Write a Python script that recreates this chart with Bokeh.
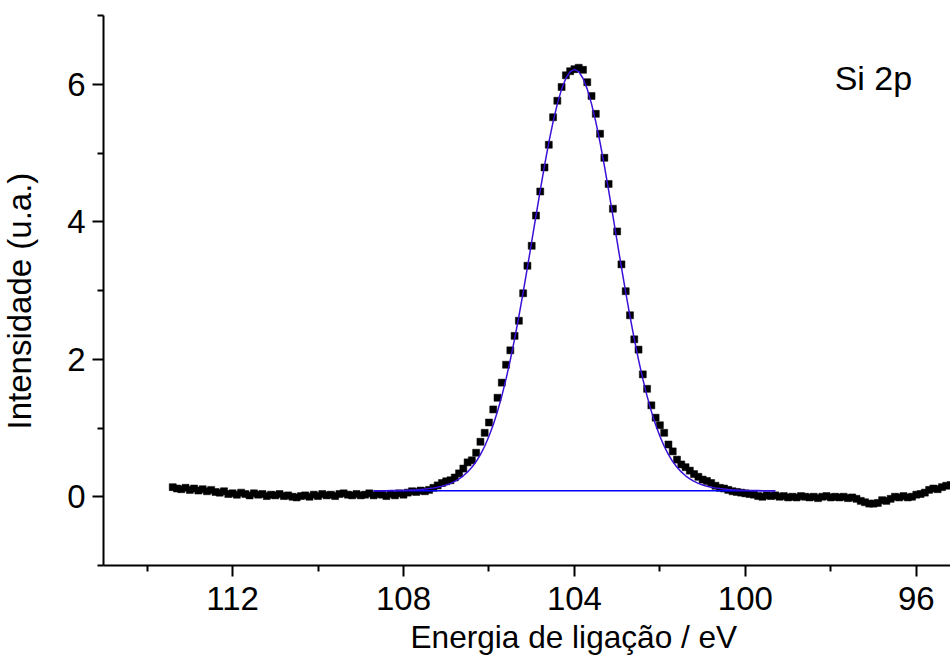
import math
from bokeh.plotting import figure
from bokeh.models import Range1d, FixedTicker, Label, Title
from bokeh.embed import file_html
from bokeh.resources import INLINE

# ---- data (binding energy in eV, intensity in a.u.) ----
energy = [
    113.4, 113.3, 113.2, 113.1, 113.0, 112.9, 112.8, 112.7, 112.6, 112.5,
    112.4, 112.3, 112.2, 112.1, 112.0, 111.9, 111.8, 111.7, 111.6, 111.5,
    111.4, 111.3, 111.2, 111.1, 111.0, 110.9, 110.8, 110.7, 110.6, 110.5,
    110.4, 110.3, 110.2, 110.1, 110.0, 109.9, 109.8, 109.7, 109.6, 109.5,
    109.4, 109.3, 109.2, 109.1, 109.0, 108.9, 108.8, 108.7, 108.6, 108.5,
    108.4, 108.3, 108.2, 108.1, 108.0, 107.9, 107.8, 107.7, 107.6, 107.5,
    107.4, 107.3, 107.2, 107.1, 107.0, 106.9, 106.8, 106.7, 106.6, 106.5,
    106.4, 106.3, 106.2, 106.1, 106.0, 105.9, 105.8, 105.7, 105.6, 105.5,
    105.4, 105.3, 105.2, 105.1, 105.0, 104.9, 104.8, 104.7, 104.6, 104.5,
    104.4, 104.3, 104.2, 104.1, 104.0, 103.9, 103.8, 103.7, 103.6, 103.5,
    103.4, 103.3, 103.2, 103.1, 103.0, 102.9, 102.8, 102.7, 102.6, 102.5,
    102.4, 102.3, 102.2, 102.1, 102.0, 101.9, 101.8, 101.7, 101.6, 101.5,
    101.4, 101.3, 101.2, 101.1, 101.0, 100.9, 100.8, 100.7, 100.6, 100.5,
    100.4, 100.3, 100.2, 100.1, 100.0, 99.9, 99.8, 99.7, 99.6, 99.5,
    99.4, 99.3, 99.2, 99.1, 99.0, 98.9, 98.8, 98.7, 98.6, 98.5,
    98.4, 98.3, 98.2, 98.1, 98.0, 97.9, 97.8, 97.7, 97.6, 97.5,
    97.4, 97.3, 97.2, 97.1, 97.0, 96.9, 96.8, 96.7, 96.6, 96.5,
    96.4, 96.3, 96.2, 96.1, 96.0, 95.9, 95.8, 95.7, 95.6, 95.5,
    95.4, 95.3, 95.2,
]
intensity = [
    0.14, 0.12, 0.11, 0.13, 0.10, 0.12, 0.09, 0.11, 0.08, 0.10,
    0.07, 0.06, 0.08, 0.04, 0.05, 0.03, 0.06, 0.04, 0.02, 0.05,
    0.03, 0.04, 0.01, 0.03, 0.02, 0.04, 0.01, 0.02, 0.00, -0.01,
    0.01, 0.02, 0.00, 0.03, 0.01, 0.04, 0.02, 0.03, 0.01, 0.04,
    0.05, 0.03, 0.02, 0.04, 0.02, 0.03, 0.05, 0.02, 0.04, 0.03,
    0.01, 0.04, 0.02, 0.05, 0.03, 0.06, 0.08, 0.07, 0.09, 0.08,
    0.10, 0.13, 0.165, 0.20, 0.225, 0.24, 0.28, 0.34, 0.41, 0.50,
    0.53, 0.64, 0.80, 0.93, 1.08, 1.27, 1.44, 1.66, 1.92, 2.13,
    2.34, 2.56, 2.96, 3.36, 3.65, 4.09, 4.44, 4.79, 5.12, 5.52,
    5.76, 5.96, 6.13, 6.19, 6.22, 6.24, 6.21, 6.03, 5.83, 5.57,
    5.28, 4.93, 4.55, 4.19, 3.86, 3.38, 2.99, 2.64, 2.29, 2.14,
    1.78, 1.57, 1.33, 1.15, 1.04, 0.93, 0.76, 0.66, 0.54, 0.47,
    0.43, 0.38, 0.33, 0.29, 0.25, 0.23, 0.20, 0.16, 0.13, 0.12,
    0.10, 0.08, 0.07, 0.06, 0.05, 0.04, 0.03, 0.01, 0.00, 0.02,
    0.01, 0.02, 0.00, 0.01, -0.01, 0.00, -0.01, 0.01, 0.00, -0.01,
    0.00, -0.02, 0.00, 0.01, -0.01, 0.00, -0.01, 0.00, -0.02, -0.01,
    -0.03, -0.06, -0.08, -0.10, -0.10, -0.09, -0.05, -0.06, -0.03, 0.00,
    -0.01, 0.01, -0.01, 0.00, 0.03, 0.04, 0.06, 0.10, 0.12, 0.11,
    0.14, 0.16, 0.17,
]

fit_energy = [
    108.7, 108.6, 108.5, 108.4, 108.3, 108.2, 108.1, 108.0, 107.9, 107.8,
    107.7, 107.6, 107.5, 107.4, 107.3, 107.2, 107.1, 107.0, 106.9, 106.8,
    106.7, 106.6, 106.5, 106.4, 106.3, 106.2, 106.1, 106.0, 105.9, 105.8,
    105.7, 105.6, 105.5, 105.4, 105.3, 105.2, 105.1, 105.0, 104.9, 104.8,
    104.7, 104.6, 104.5, 104.4, 104.3, 104.2, 104.1, 104.0, 103.9, 103.8,
    103.7, 103.6, 103.5, 103.4, 103.3, 103.2, 103.1, 103.0, 102.9, 102.8,
    102.7, 102.6, 102.5, 102.4, 102.3, 102.2, 102.1, 102.0, 101.9, 101.8,
    101.7, 101.6, 101.5, 101.4, 101.3, 101.2, 101.1, 101.0, 100.9, 100.8,
    100.7, 100.6, 100.5, 100.4, 100.3, 100.2, 100.1, 100.0, 99.9, 99.8,
    99.7, 99.6, 99.5, 99.4, 99.3,
]
fit_intensity = [
    0.087, 0.088, 0.088, 0.089, 0.090, 0.091, 0.092, 0.093, 0.095, 0.098,
    0.101, 0.106, 0.112, 0.119, 0.128, 0.139, 0.153, 0.170, 0.195, 0.224,
    0.260, 0.305, 0.361, 0.429, 0.512, 0.614, 0.735, 0.879, 1.047, 1.242,
    1.464, 1.714, 1.991, 2.295, 2.623, 2.972, 3.336, 3.710, 4.086, 4.458,
    4.815, 5.150, 5.453, 5.715, 5.929, 6.087, 6.184, 6.217, 6.184, 6.087,
    5.929, 5.715, 5.453, 5.150, 4.815, 4.458, 4.086, 3.710, 3.336, 2.972,
    2.623, 2.295, 1.991, 1.714, 1.464, 1.242, 1.047, 0.879, 0.735, 0.614,
    0.512, 0.429, 0.361, 0.305, 0.260, 0.224, 0.195, 0.170, 0.153, 0.139,
    0.128, 0.119, 0.112, 0.106, 0.101, 0.098, 0.095, 0.093, 0.092, 0.091,
    0.090, 0.089, 0.088, 0.088, 0.087,
]

baseline_energy = [108.7, 99.3]
baseline_intensity = [0.087, 0.087]

x_major_ticks = [112, 108, 104, 100, 96]
x_minor_ticks = [114, 110, 106, 102, 98]
y_major_ticks = [0, 2, 4, 6]
y_minor_ticks = [-1, 1, 3, 5, 7]

x_title = "Energia de ligação / eV"
y_title = "Intensidade (u.a.)"
peak_label = "Si 2p"

FONT = "Liberation Sans"

p = figure(
    width=950, height=655,
    output_backend="svg", toolbar_location=None,
    x_range=Range1d(115.02, 95.20), y_range=Range1d(-1, 7),
    min_border_left=101, min_border_right=0,
    min_border_top=15, min_border_bottom=90,
    background_fill_color="white", border_fill_color="white",
)
p.outline_line_color = None
p.xgrid.visible = False
p.ygrid.visible = False

p.xaxis.ticker = FixedTicker(ticks=x_major_ticks, minor_ticks=x_minor_ticks)
p.yaxis.ticker = FixedTicker(ticks=y_major_ticks, minor_ticks=y_minor_ticks)

for ax in (p.xaxis[0], p.yaxis[0]):
    ax.axis_line_color = "black"
    ax.axis_line_width = 2
    ax.major_tick_line_color = "black"
    ax.minor_tick_line_color = "black"
    ax.major_tick_line_width = 2
    ax.minor_tick_line_width = 2
    ax.major_tick_out = 11
    ax.major_tick_in = 0
    ax.minor_tick_out = 6
    ax.minor_tick_in = 0
    ax.major_label_text_font = FONT
    ax.major_label_text_font_size = "33px"
    ax.major_label_text_color = "black"
    # invisible spacer labels: push the outer titles away from the tick labels
    ax.axis_label = "\u00a0"
    ax.axis_label_text_font_size = "1px"
p.xaxis[0].major_label_standoff = 10
p.yaxis[0].major_label_standoff = 7
p.xaxis[0].axis_label_standoff = 5
p.yaxis[0].axis_label_standoff = 21

p.scatter(energy, intensity, marker="square", size=7,
          fill_color="black", line_color="black", line_width=0.5)
p.line(baseline_energy, baseline_intensity, line_color="#0000ff", line_width=1.3)
p.line(fit_energy, fit_intensity, line_color="#3a10d8", line_width=1.5)

# axis titles as side-panel titles (not clipped by the frame)
p.add_layout(Title(text=x_title, align="left", offset=307, vertical_align="top",
                   standoff=-6, text_font=FONT, text_font_size="31.6px",
                   text_font_style="normal", text_color="black"), "below")
p.add_layout(Title(text=y_title, align="left", offset=136, vertical_align="top",
                   standoff=0, text_font=FONT, text_font_size="33px",
                   text_font_style="normal", text_color="black"), "left")

p.add_layout(Label(x=97.91, y=6.09, text=peak_label, text_align="left",
                   text_baseline="alphabetic", text_font=FONT,
                   text_font_size="34px", text_color="black"))

open("out.html", "w").write(file_html(p, INLINE))
